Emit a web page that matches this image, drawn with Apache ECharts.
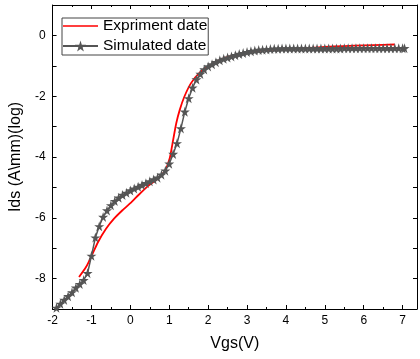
<!DOCTYPE html>
<html>
<head>
<meta charset="utf-8">
<script src="https://cdn.jsdelivr.net/npm/echarts@6/dist/echarts.min.js"></script>
<style>html,body{margin:0;padding:0;background:#fff}#c{width:420px;height:359px}</style>
</head>
<body>
<div id="c"></div>
<script>
// Experimental data (Vgs, log Ids)
const expX = [-1.32,-1.14,-1.01,-0.84,-0.63,-0.42,-0.21,0.0,0.21,0.46,0.72,0.89,1.01,1.10,1.18,1.27,1.39,1.56,1.77,2.07,2.41,2.91,3.42,4.0,4.5,5.0,5.5,6.0,6.5,6.8];
const expY = [-7.95,-7.62,-7.29,-6.82,-6.37,-6.03,-5.76,-5.52,-5.25,-4.95,-4.70,-4.45,-4.05,-3.44,-2.89,-2.45,-2.01,-1.57,-1.24,-0.97,-0.75,-0.58,-0.49,-0.45,-0.42,-0.38,-0.35,-0.33,-0.31,-0.30];
// Simulated data
const simX = [-1.9,-1.8,-1.7,-1.6,-1.5,-1.4,-1.3,-1.2,-1.1,-1.0,-0.9,-0.8,-0.7,-0.6,-0.5,-0.4,-0.3,-0.2,-0.1,0.0,0.1,0.2,0.3,0.4,0.5,0.6,0.7,0.8,0.9,1.0,1.1,1.2,1.3,1.4,1.5,1.6,1.7,1.8,1.9,2.0,2.1,2.2,2.3,2.4,2.5,2.6,2.7,2.8,2.9,3.0,3.1,3.2,3.3,3.4,3.5,3.6,3.7,3.8,3.9,4.0,4.1,4.2,4.3,4.4,4.5,4.6,4.7,4.8,4.9,5.0,5.1,5.2,5.3,5.4,5.5,5.6,5.7,5.8,5.9,6.0,6.1,6.2,6.3,6.4,6.5,6.6,6.7,6.8,6.9,7.0,7.05];
const simY = [-8.96,-8.83,-8.70,-8.58,-8.45,-8.30,-8.18,-8.05,-7.82,-7.25,-6.65,-6.28,-5.97,-5.76,-5.59,-5.45,-5.34,-5.25,-5.18,-5.10,-5.04,-4.98,-4.92,-4.86,-4.80,-4.74,-4.68,-4.58,-4.45,-4.22,-3.90,-3.55,-3.06,-2.51,-2.07,-1.72,-1.45,-1.27,-1.12,-1.02,-0.95,-0.88,-0.82,-0.77,-0.73,-0.69,-0.65,-0.61,-0.58,-0.55,-0.52,-0.50,-0.48,-0.47,-0.46,-0.45,-0.44,-0.44,-0.43,-0.43,-0.43,-0.43,-0.43,-0.43,-0.43,-0.43,-0.43,-0.43,-0.43,-0.43,-0.43,-0.43,-0.43,-0.43,-0.42,-0.42,-0.42,-0.42,-0.42,-0.42,-0.42,-0.42,-0.42,-0.42,-0.42,-0.42,-0.42,-0.42,-0.42,-0.42,-0.42];
const xTickLabels = ['-2','-1','0','1','2','3','4','5','6','7'];
const yTickLabels = ['-8','-6','-4','-2','0'];

const star = 'path://M50,0 L61,35 L98,35 L68,57 L79,91 L50,70 L21,91 L32,57 L2,35 L39,35 Z';
const lineIcon = 'path://M0,0 L0.01,0 L0,0.01 Z M0,6.2 L35,6.2 L35,7.8 L0,7.8 Z M35,14 L34.99,14 L35,13.99 Z';
const font = 'Arial, "Liberation Sans", sans-serif';
const axisLineStyle = {show: true, onZero: false, lineStyle: {color: '#000', width: 1}};
const tickStyle = {show: true, inside: true, length: 4, lineStyle: {color: '#000'}};
const minorStyle = {show: true, splitNumber: 2, length: 2, lineStyle: {color: '#000'}};
const chart = echarts.init(document.getElementById('c'));
chart.setOption({
  animation: false,
  grid: {left: 46, right: 3, top: 5, bottom: 50},
  legend: {
    left: 62, top: 18, orient: 'vertical',
    itemWidth: 35, itemHeight: 14, itemGap: 4,
    padding: [0, 1, 1, 0],
    borderColor: '#444', borderWidth: 1,
    textStyle: {fontFamily: font, fontSize: 15.5, color: '#000'},
    data: [{name: 'Expriment date', icon: lineIcon}, {name: 'Simulated date'}]
  },
  xAxis: [
    {
      type: 'value', min: -2, max: 7.37, interval: 1,
      name: 'Vgs(V)', nameLocation: 'middle', nameGap: 27,
      nameTextStyle: {fontFamily: font, fontSize: 16, color: '#000'},
      axisLine: axisLineStyle, splitLine: {show: false},
      axisTick: tickStyle, minorTick: minorStyle,
      axisLabel: {fontFamily: font, fontSize: 12, color: '#000', margin: 6, showMaxLabel: false,
        formatter: v => xTickLabels.includes(String(v)) ? String(v) : ''}
    },
    {
      type: 'value', position: 'top', min: -2, max: 7.37, interval: 1,
      axisLine: axisLineStyle, splitLine: {show: false},
      axisTick: tickStyle, minorTick: minorStyle,
      axisLabel: {show: false}
    }
  ],
  yAxis: [
    {
      type: 'value', min: -9, max: 1, interval: 1,
      name: 'Ids (A\\mm)(log)', nameLocation: 'middle', nameGap: 24,
      nameTextStyle: {fontFamily: font, fontSize: 16, color: '#000'},
      axisLine: axisLineStyle, splitLine: {show: false},
      axisTick: tickStyle,
      axisLabel: {fontFamily: font, fontSize: 12, color: '#000', margin: 7,
        formatter: v => yTickLabels.includes(String(v)) ? String(v) : ''}
    },
    {
      type: 'value', position: 'right', min: -9, max: 1, interval: 1,
      axisLine: axisLineStyle, splitLine: {show: false},
      axisTick: tickStyle,
      axisLabel: {show: false}
    }
  ],
  series: [
    {
      name: 'Expriment date', type: 'line', smooth: 0.2, showSymbol: false,
      data: expX.map((x, i) => [x, expY[i]]),
      lineStyle: {color: '#ff0000', width: 1.8}, itemStyle: {color: '#ff0000'}, z: 2
    },
    {
      name: 'Simulated date', type: 'line', symbol: star, symbolSize: 10,
      data: simX.map((x, i) => [x, simY[i]]),
      lineStyle: {color: '#555', width: 1.5}, itemStyle: {color: '#555'}, z: 3
    }
  ]
});
</script>
</body>
</html>
